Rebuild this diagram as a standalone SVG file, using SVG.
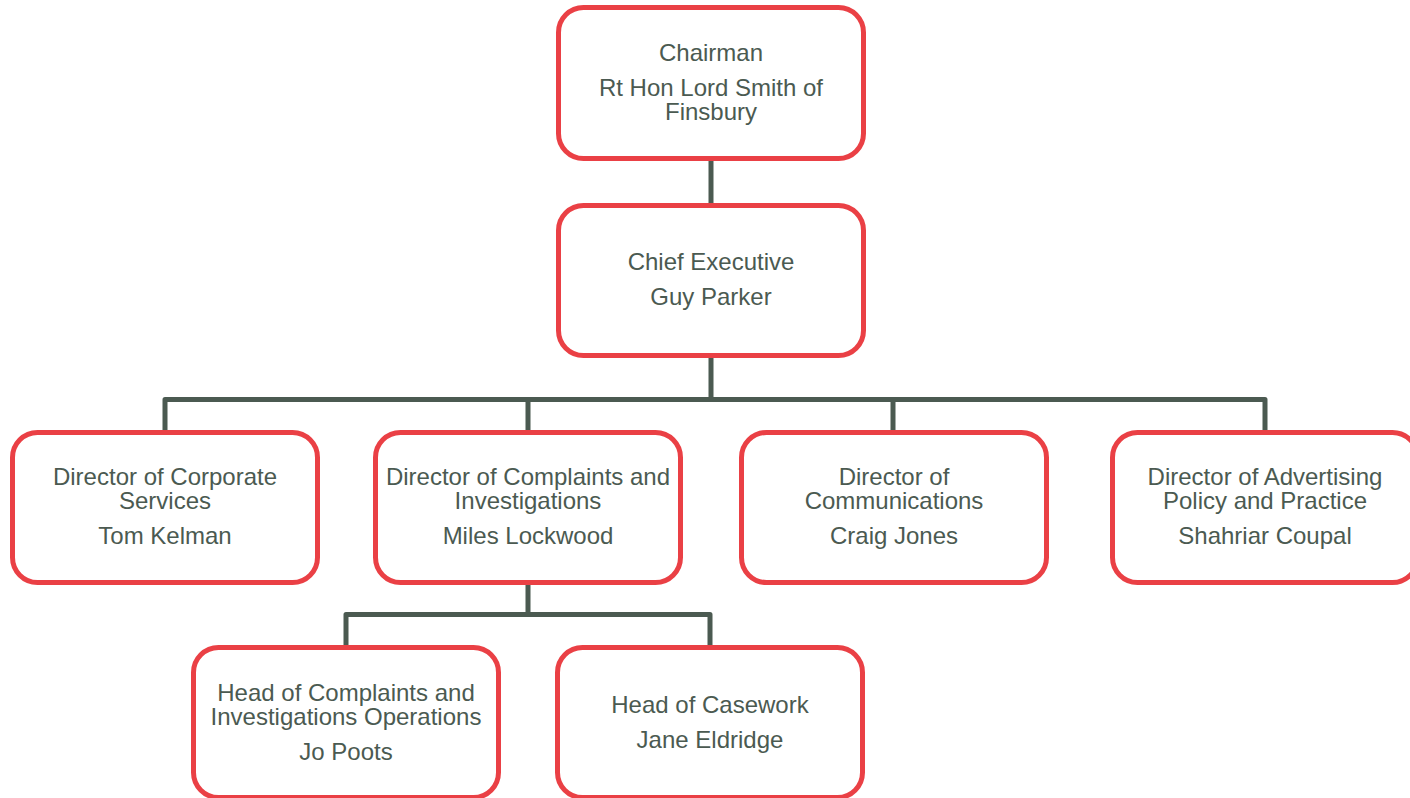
<svg xmlns="http://www.w3.org/2000/svg" width="1410" height="798" viewBox="0 0 1410 798">
<style>
.box{fill:#fff;stroke:#ea4045;stroke-width:5}
.t{font-family:"Liberation Sans",Arial,sans-serif;font-size:24px;fill:#4b5a51;text-anchor:middle}
.c{fill:none;stroke:#4b5a51;stroke-width:5;stroke-linejoin:round}
</style>
<rect width="1410" height="798" fill="#fff"/>
<g id="connectors">
<path class="c" d="M711 160 V206"/>
<path class="c" d="M711 355 V399.5 M165 432 V399.5 H1265 V432 M528 399.5 V432 M893 399.5 V432"/>
<path class="c" d="M528 582 V614.5 M346 647 V614.5 H710 V647"/>
</g>
<g id="chairman">
<rect class="box" x="558.5" y="7.5" width="305" height="151" rx="25"/>
<text class="t" x="711" y="61">Chairman</text>
<text class="t" x="711" y="96">Rt Hon Lord Smith of</text>
<text class="t" x="711" y="120">Finsbury</text>
</g>
<g id="chief">
<rect class="box" x="558.5" y="205.5" width="305" height="150" rx="25"/>
<text class="t" x="711" y="270">Chief Executive</text>
<text class="t" x="711" y="305">Guy Parker</text>
</g>
<g id="corporate">
<rect class="box" x="12.5" y="432.5" width="305" height="150" rx="25"/>
<text class="t" x="165" y="485">Director of Corporate</text>
<text class="t" x="165" y="509">Services</text>
<text class="t" x="165" y="544">Tom Kelman</text>
</g>
<g id="complaints">
<rect class="box" x="375.5" y="432.5" width="305" height="150" rx="25"/>
<text class="t" x="528" y="485">Director of Complaints and</text>
<text class="t" x="528" y="509">Investigations</text>
<text class="t" x="528" y="544">Miles Lockwood</text>
</g>
<g id="communications">
<rect class="box" x="741.5" y="432.5" width="305" height="150" rx="25"/>
<text class="t" x="894" y="485">Director of</text>
<text class="t" x="894" y="509">Communications</text>
<text class="t" x="894" y="544">Craig Jones</text>
</g>
<g id="advertising">
<rect class="box" x="1112.5" y="432.5" width="305" height="150" rx="25"/>
<text class="t" x="1265" y="485">Director of Advertising</text>
<text class="t" x="1265" y="509">Policy and Practice</text>
<text class="t" x="1265" y="544">Shahriar Coupal</text>
</g>
<g id="head-operations">
<rect class="box" x="193.5" y="647.5" width="305" height="150" rx="25"/>
<text class="t" x="346" y="701">Head of Complaints and</text>
<text class="t" x="346" y="725">Investigations Operations</text>
<text class="t" x="346" y="760">Jo Poots</text>
</g>
<g id="head-casework">
<rect class="box" x="557.5" y="647.5" width="305" height="150" rx="25"/>
<text class="t" x="710" y="713">Head of Casework</text>
<text class="t" x="710" y="748">Jane Eldridge</text>
</g>
</svg>
